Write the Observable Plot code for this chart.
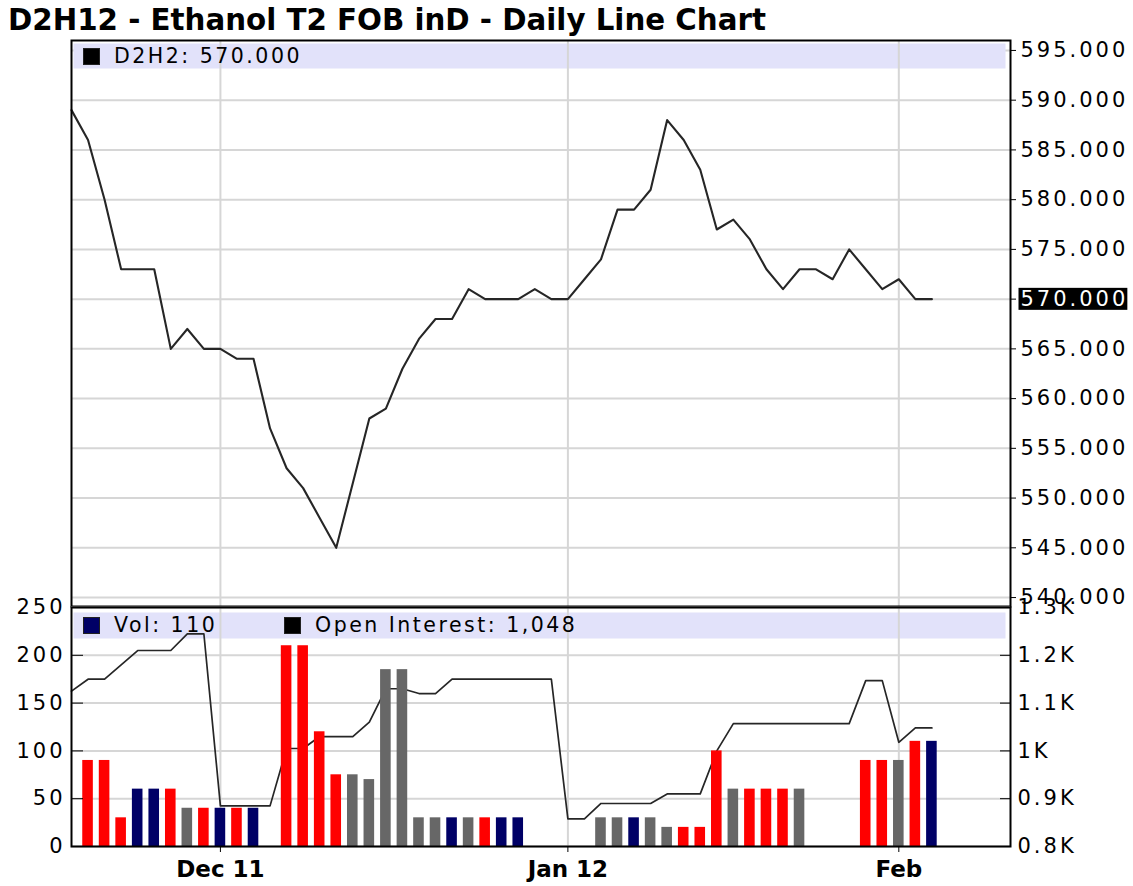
<!DOCTYPE html>
<html>
<head>
<meta charset="utf-8">
<script src="https://cdn.jsdelivr.net/npm/d3@7"></script>
<script src="https://cdn.jsdelivr.net/npm/@observablehq/plot@0.6"></script>
<style>
html,body{margin:0;padding:0;background:#fff;}
#root{position:relative;width:1133px;height:886px;overflow:hidden;font-family:"DejaVu Sans",sans-serif;color:#000;}
#title{position:absolute;left:8px;top:3px;font-weight:bold;font-size:29.3px;line-height:34px;white-space:nowrap;}
.layer{position:absolute;left:0;display:block;}
.legend{position:absolute;height:26px;display:flex;align-items:center;font-size:20.5px;letter-spacing:2.5px;white-space:nowrap;}
.sw{display:inline-block;width:17px;height:17px;margin-right:14px;box-sizing:border-box;border:1px solid #222;}
g[aria-label="y-axis tick label"] text{letter-spacing:3px;}
</style>
</head>
<body>
<div id="root"><div id="title"></div></div>
<script>
const title = "D2H12 - Ethanol T2 FOB inD - Daily Line Chart";
const symbol = "D2H2";
const dates = ["2011-11-17","2011-11-18","2011-11-21","2011-11-22","2011-11-23","2011-11-25","2011-11-28","2011-11-29","2011-11-30",
  "2011-12-01","2011-12-02","2011-12-05","2011-12-06","2011-12-07","2011-12-08","2011-12-09","2011-12-12","2011-12-13","2011-12-14","2011-12-15","2011-12-16","2011-12-19","2011-12-20","2011-12-21","2011-12-22","2011-12-23","2011-12-27","2011-12-28","2011-12-29","2011-12-30",
  "2012-01-03","2012-01-04","2012-01-05","2012-01-06","2012-01-09","2012-01-10","2012-01-11","2012-01-12","2012-01-13","2012-01-17","2012-01-18","2012-01-19","2012-01-20","2012-01-23","2012-01-24","2012-01-25","2012-01-26","2012-01-27","2012-01-30","2012-01-31",
  "2012-02-01","2012-02-02","2012-02-03"];
const price = [589,586,580,573,573,573,565,567,565,565,564,564,557,553,551,548,545,551.5,558,559,563,566,568,568,571,570,570,570,571,570,570,572,574,579,579,581,588,586,583,577,578,576,573,571,573,573,572,575,573,571,572,570,570];
const volume = [null,90,90,30,60,60,60,40,40,40,40,40,null,210,210,120,75,75,70,185,185,30,30,30,30,30,30,30,null,null,null,null,30,30,30,30,20,20,20,100,60,60,60,60,60,null,null,null,90,90,90,110,110];
const openInterest = [1125,1150,1150,1180,1210,1210,1210,1245,1245,885,885,885,885,1005,1005,1030,1030,1030,1060,1130,1130,1120,1120,1150,1150,1150,1150,1150,1150,1150,858,858,890,890,890,890,910,910,910,1000,1057,1057,1057,1057,1057,1057,1057,1057,1147,1147,1018,1048,1048];
const tickDates = ["2011-12-01","2012-01-03","2012-02-01"];
const tickLabels = ["Dec 11","Jan 12","Feb"];
const priceTicks = [540,545,550,555,560,565,570,575,580,585,590,595];
const volumeTicks = [0,50,100,150,200,250];
const oiTicks = [800,900,1000,1100,1200,1300];
const oiTickLabels = ["0.8K","0.9K","1K","1.1K","1.2K","1.3K"];

const rows = dates.map((date, i) => ({i, date, price: price[i], vol: volume[i], oi: openInterest[i], chg: i ? price[i] - price[i-1] : 0}));
const bars = rows.filter(d => d.vol != null);
const xTicks = tickDates.map(d => dates.indexOf(d));
const xDomain = [0, 56.75];
const W = 1133, ML = 71, MR = 123;
const grid = "#d6d6d6";
const font = "DejaVu Sans";
const band = "#e2e2fa";
const colorOf = d => d.chg < 0 ? "#ff0000" : d.chg > 0 ? "#676767" : "#000066";
const st = {background: "transparent", fontFamily: font, overflow: "visible", color: "#000"};

const upper = Plot.plot({
  width: W, height: 572, marginLeft: ML, marginRight: MR, marginTop: 4, marginBottom: 2,
  style: st,
  x: {domain: xDomain, axis: null},
  y: {domain: [539.1, 596]},
  marks: [
    Plot.ruleY(priceTicks, {stroke: grid, strokeWidth: 2}),
    Plot.frame({fill: band, stroke: "none", insetTop: 3, insetBottom: 538, insetLeft: 2, insetRight: 5}),
    Plot.ruleX(xTicks, {stroke: grid, strokeWidth: 2}),
    Plot.line(rows, {x: "i", y: "price", stroke: "#262626", strokeWidth: 2.1}),
    Plot.frame({stroke: "#000", strokeWidth: 2}),
    Plot.axisY({ticks: priceTicks, anchor: "right", label: null, tickSize: 5, tickPadding: 5, tickFormat: d => d.toFixed(3), fontSize: 21})
  ]
});

const lowerOI = Plot.plot({
  width: W, height: 286, marginLeft: ML, marginRight: MR, marginTop: 7, marginBottom: 40,
  style: st,
  x: {domain: xDomain, axis: null},
  y: {domain: [800, 1300]},
  marks: [
    Plot.ruleY(oiTicks, {stroke: grid, strokeWidth: 2}),
    Plot.frame({fill: band, stroke: "none", insetTop: 5, insetBottom: 208, insetLeft: 2, insetRight: 5}),
    Plot.ruleX(xTicks, {stroke: grid, strokeWidth: 2}),
    Plot.line(rows, {x: "i", y: "oi", stroke: "#262626", strokeWidth: 1.7}),
    Plot.axisY({ticks: oiTicks, anchor: "right", label: null, tickSize: -11, tickPadding: 18, tickFormat: d => oiTickLabels[oiTicks.indexOf(d)], fontSize: 21})
  ]
});

const lowerVol = Plot.plot({
  width: W, height: 286, marginLeft: ML, marginRight: MR, marginTop: 7, marginBottom: 40,
  style: st,
  x: {domain: xDomain},
  y: {domain: [0, 250]},
  color: {type: "identity"},
  marks: [
    Plot.rectY(bars, {x1: d => d.i - 0.32, x2: d => d.i + 0.32, y: "vol", fill: colorOf}),
    Plot.frame({stroke: "#000", strokeWidth: 2}),
    Plot.axisY({ticks: volumeTicks, anchor: "left", label: null, tickSize: -12, tickPadding: 18, fontSize: 21}),
    Plot.axisX({ticks: xTicks, label: null, tickSize: 6, tickPadding: 8, tickFormat: d => tickLabels[xTicks.indexOf(d)], fontSize: 23, fontWeight: "bold"})
  ]
});

const root = document.getElementById("root");
document.getElementById("title").textContent = title;
[[upper, 36], [lowerOI, 600], [lowerVol, 600]].forEach(([svg, top]) => {
  svg.classList.add("layer");
  svg.style.top = top + "px";
  root.appendChild(svg);
});

// highlight last price on the right axis
const lastLabel = price[price.length - 1].toFixed(3);
const lab = [...upper.querySelectorAll('g[aria-label="y-axis tick label"] text')].find(t => t.textContent === lastLabel);
if (lab) {
  const b = lab.getBBox();
  const r = document.createElementNS("http://www.w3.org/2000/svg", "rect");
  r.setAttribute("x", b.x - 2);
  r.setAttribute("y", b.y + 1);
  r.setAttribute("width", b.width + 1);
  r.setAttribute("height", b.height - 2);
  if (lab.getAttribute("transform")) r.setAttribute("transform", lab.getAttribute("transform"));
  r.setAttribute("fill", "#000");
  lab.parentNode.insertBefore(r, lab);
  lab.setAttribute("fill", "#fff");
}

function legend(left, top, color, text) {
  const d = document.createElement("div");
  d.className = "legend";
  d.style.left = left + "px";
  d.style.top = top + "px";
  const s = document.createElement("span");
  s.className = "sw";
  s.style.background = color;
  d.appendChild(s);
  d.appendChild(document.createTextNode(text));
  root.appendChild(d);
}
legend(83, 43, "#000", `${symbol}: ${lastLabel}`);
legend(83, 612, "#000066", `Vol: ${volume[volume.length - 1]}`);
legend(284, 612, "#000", `Open Interest: ${d3.format(",")(openInterest[openInterest.length - 1])}`);
</script>
</body>
</html>
